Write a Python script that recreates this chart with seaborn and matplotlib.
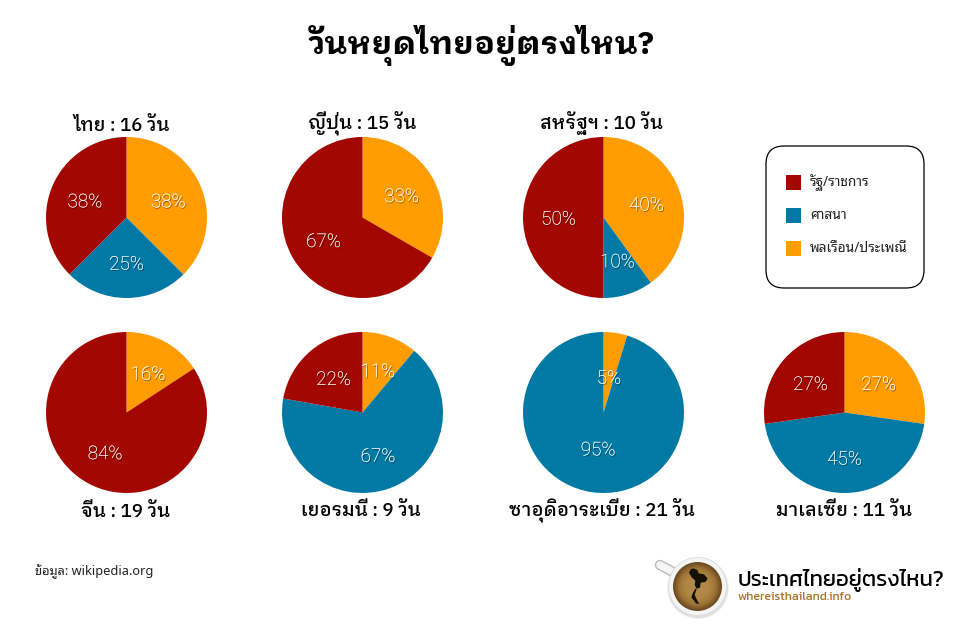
import matplotlib
matplotlib.use('Agg')
import numpy as np
import seaborn as sns
import matplotlib.pyplot as plt
from matplotlib import patheffects as pe
from matplotlib.patches import Circle, FancyBboxPatch, Polygon, Rectangle

# ---- data: public holidays per country (days) ----
countries = ['ไทย', 'ญี่ปุ่น', 'สหรัฐฯ', 'จีน', 'เยอรมนี', 'ซาอุดิอาระเบีย', 'มาเลเซีย']
total_days = [16, 15, 10, 19, 9, 21, 11]
civil_days = [6, 5, 4, 3, 1, 1, 3]
religion_days = [4, 0, 1, 0, 6, 20, 5]
state_days = [6, 10, 5, 16, 2, 0, 3]

category_labels = ['รัฐ/ราชการ', 'ศาสนา', 'พลเรือน/ประเพณี']
main_title = 'วันหยุดไทยอยู่ตรงไหน?'
source_text = 'ข้อมูล: wikipedia.org'
logo_title = 'ประเทศไทยอยู่ตรงไหน?'
logo_url = 'whereisthailand.info'

# ---- layout (pixels) ----
W, H = 960, 640
pie_centers = [(126.5, 217.5), (362.5, 217.5), (603.5, 217.5),
               (126.5, 412.5), (362.5, 412.5), (603.5, 412.5), (844.5, 412.5)]
pie_radius = 80.5
name_pos = [(122, 126), (362, 123), (602, 123),
            (126, 512), (361, 511), (602, 510), (844, 511)]
pct_dist = [0.56, 0.56, 0.56, 0.56, 0.56, 0.45, 0.56]

THAI = ['Noto Sans Thai Looped', 'Noto Sans', 'DejaVu Sans']
THAI_BOLD = ['IBM Plex Sans Thai Looped', 'Noto Sans', 'DejaVu Sans']
LOGO = ['Kanit', 'Noto Sans', 'DejaVu Sans']

sns.set_theme(style='white')
palette = sns.color_palette(['#A30800', '#007AA5', '#FF9C00'])
state_c, religion_c, civil_c = palette

fig = plt.figure(figsize=(W / 100, H / 100), dpi=100, facecolor='white')

# overlay in pixel coordinates for the legend box, notes and logo
bg = fig.add_axes([0, 0, 1, 1])
bg.set_xlim(0, W)
bg.set_ylim(H, 0)
bg.axis('off')

bg.text(481, 45, main_title, ha='center', va='center', fontsize=23.3,
        family=THAI_BOLD, weight='bold', color='black')

shadow = [pe.withSimplePatchShadow(offset=(0.7, -0.9), shadow_rgbFace='black', alpha=0.55),
          pe.Normal()]


def pct_label(p):
    return f'{p:.0f}%' if p > 0 else ''


for i, (cx, cy) in enumerate(pie_centers):
    ax = fig.add_axes([(cx - pie_radius) / W, 1 - (cy + pie_radius) / H,
                       2 * pie_radius / W, 2 * pie_radius / H])
    vals = [civil_days[i], religion_days[i], state_days[i]]
    wedges, _, autotexts = ax.pie(
        vals, colors=[civil_c, religion_c, state_c], startangle=90, counterclock=False,
        radius=1, autopct=pct_label, pctdistance=pct_dist[i],
        wedgeprops={'linewidth': 0},
        textprops={'color': 'white', 'fontsize': 13.6, 'family': 'Roboto', 'weight': 'light'})
    for t in autotexts:
        tx, ty = t.get_position()
        t.set_position((tx, ty - 0.025))
        t.set_path_effects(shadow)
    ax.set_xlim(-1, 1)
    ax.set_ylim(-1, 1)
    ax.patch.set_alpha(0)
    nx, ny = name_pos[i]
    bg.text(nx, ny, f'{countries[i]} : {total_days[i]} วัน', ha='center', va='center',
            fontsize=13.5, family=THAI_BOLD, weight='medium', color='black')

# legend box
bg.add_patch(FancyBboxPatch((766 + 18, 146 + 18), 158 - 36, 142 - 36,
                            boxstyle='round,pad=18,rounding_size=18',
                            fc='white', ec='black', lw=0.9))
for y, c, lab in zip([175, 208, 241], palette, category_labels):
    bg.add_patch(Rectangle((786, y), 15, 15, fc=c, ec='none'))
    bg.text(810, y + 7.5, lab, ha='left', va='center', fontsize=9.9,
            family=THAI, color='#222222')

# source
bg.text(35, 572, source_text, ha='left', va='center', fontsize=9.2,
        family=THAI, color='#222222')

# logo: cup
bg.plot([660, 675], [565, 573], color='#BBBBBB', lw=7.5, solid_capstyle='round', zorder=2)
bg.plot([660, 675], [565, 573], color='#F4F4F4', lw=5.5, solid_capstyle='round', zorder=2)
for r, a in zip([31, 30], [0.05, 0.08]):
    bg.add_patch(Circle((698, 588), r, fc='black', ec='none', alpha=a, zorder=2))
bg.add_patch(Circle((697.5, 586.5), 29, fc='#F4F4F4', ec='#DDDDDD', lw=0.6, zorder=3))
for r, c in zip(np.arange(24.5, 0, -1.5),
                sns.blend_palette(['#6E4A22', '#A07636', '#B08645', '#B28A4A', '#B08645'], 17)):
    bg.add_patch(Circle((697.5, 586.5), r, fc=c, ec='none', zorder=4))
thai_shape = np.array([(160, 85), (172, 90), (176, 100), (192, 103), (203, 116), (196, 126),
                       (182, 128), (180, 143), (170, 146), (164, 135), (166, 122), (155, 112),
                       (147, 98), (152, 88)]) / 3 + [640, 540]
bg.add_patch(Polygon(thai_shape, closed=True, fc='#151008', ec='none', zorder=5))
thai_tail = np.array([(166, 146), (170, 146), (164, 165), (172, 182), (178, 192), (168, 190),
                      (154, 172), (158, 160)]) / 3 + [640, 540]
bg.add_patch(Polygon(thai_tail, closed=True, fc='#151008', ec='none', zorder=5))

bg.text(738, 580, logo_title, ha='left', va='center', fontsize=15.8, family=LOGO,
        weight='normal', color='black')
bg.text(738, 597, logo_url, ha='left', va='center', fontsize=8.9, family=LOGO,
        weight='normal', color='#A8742A')

fig.savefig('out.png', dpi=100, facecolor='white')
